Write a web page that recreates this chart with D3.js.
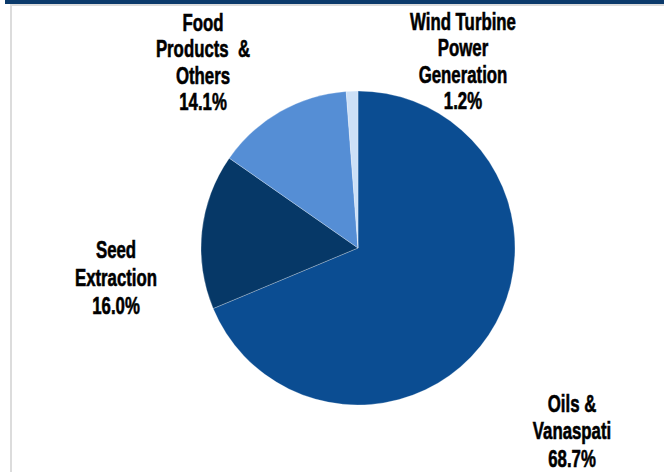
<!doctype html>
<html lang="en">
<head>
    <meta charset="utf-8">
    <title>Revenue mix pie</title>
    <script src="https://cdnjs.cloudflare.com/ajax/libs/d3/7.8.5/d3.min.js"></script>
    <style>
        body { margin: 0; background: #fff; }
        #chart text {
            font-family: "Liberation Sans", Arial, sans-serif;
            font-weight: bold;
            font-size: 24px;
            fill: #000;
            stroke: #000;
            stroke-width: 0.6px;
            text-anchor: middle;
        }
    </style>
</head>
<body>
    <div id="chart"></div>
    <script>
        // segments, clockwise from 12 o'clock
        var categories = ["Oils & Vanaspati", "Seed Extraction", "Food Products & Others", "Wind Turbine Power Generation"];
        var shares = [68.7, 16.0, 14.1, 1.2];
        var labelLines = [
            ["Oils &", "Vanaspati"],
            ["Seed", "Extraction"],
            ["Food", "Products  &", "Others"],
            ["Wind Turbine", "Power", "Generation"]
        ];
        var colors = ["#0b4d92", "#063867", "#558ed5", "#cce0f7"];

        var width = 664, height = 472;
        var cx = 358, cy = 248, radius = 157;

        // label anchor (centre x, first baseline y, line gap) for each segment
        var labelPos = [[572, 412, 27.5], [116, 258, 28], [203, 31, 26.3], [463, 30, 26.3]];
        var squeeze = 0.7;   // the original face is a condensed one

        var svg = d3.select("#chart")
            .append("svg")
              .attr("width", width)
              .attr("height", height);

        // frame remnants: dark band on top, grey border lines
        svg.append("rect")
            .attr("x", 5).attr("y", 0)
            .attr("width", width - 5).attr("height", 4)
            .attr("fill", "#0b3a6b");
        svg.append("rect")
            .attr("x", 10).attr("y", 4)
            .attr("width", width - 10).attr("height", 2)
            .attr("fill", "#dcdcdc");
        svg.append("rect")
            .attr("x", 10).attr("y", 4)
            .attr("width", 2).attr("height", height - 4)
            .attr("fill", "#dcdcdc");

        var pie = d3.pie().sort(null).value(function(d) { return d; });
        var arc = d3.arc().innerRadius(0).outerRadius(radius);

        var g = svg.append("g")
            .attr("transform", "translate(" + cx + "," + cy + ")");

        g.selectAll("path")
            .data(pie(shares))
            .enter()
            .append("path")
              .attr("d", arc)
              .attr("fill", function(d, i) { return colors[i]; })
              .attr("stroke", "rgba(255,255,255,0.35)")
              .attr("stroke-width", 0.75);

        // labels, squeezed horizontally around their anchor
        var labels = svg.selectAll("text.lbl")
            .data(categories)
            .enter()
            .append("text")
              .attr("class", "lbl")
              .attr("transform", function(d, i) {
                  return "translate(" + labelPos[i][0] + "," + labelPos[i][1] + ") scale(" + squeeze + ",1)";
              });

        labels.each(function(d, i) {
            var t = d3.select(this);
            var lines = labelLines[i].concat([shares[i].toFixed(1) + "%"]);
            lines.forEach(function(line, j) {
                t.append("tspan")
                    .attr("x", 0)
                    .attr("dy", j === 0 ? 0 : labelPos[i][2])
                    .attr("xml:space", "preserve")
                    .text(line);
            });
        });
    </script>
</body>
</html>
